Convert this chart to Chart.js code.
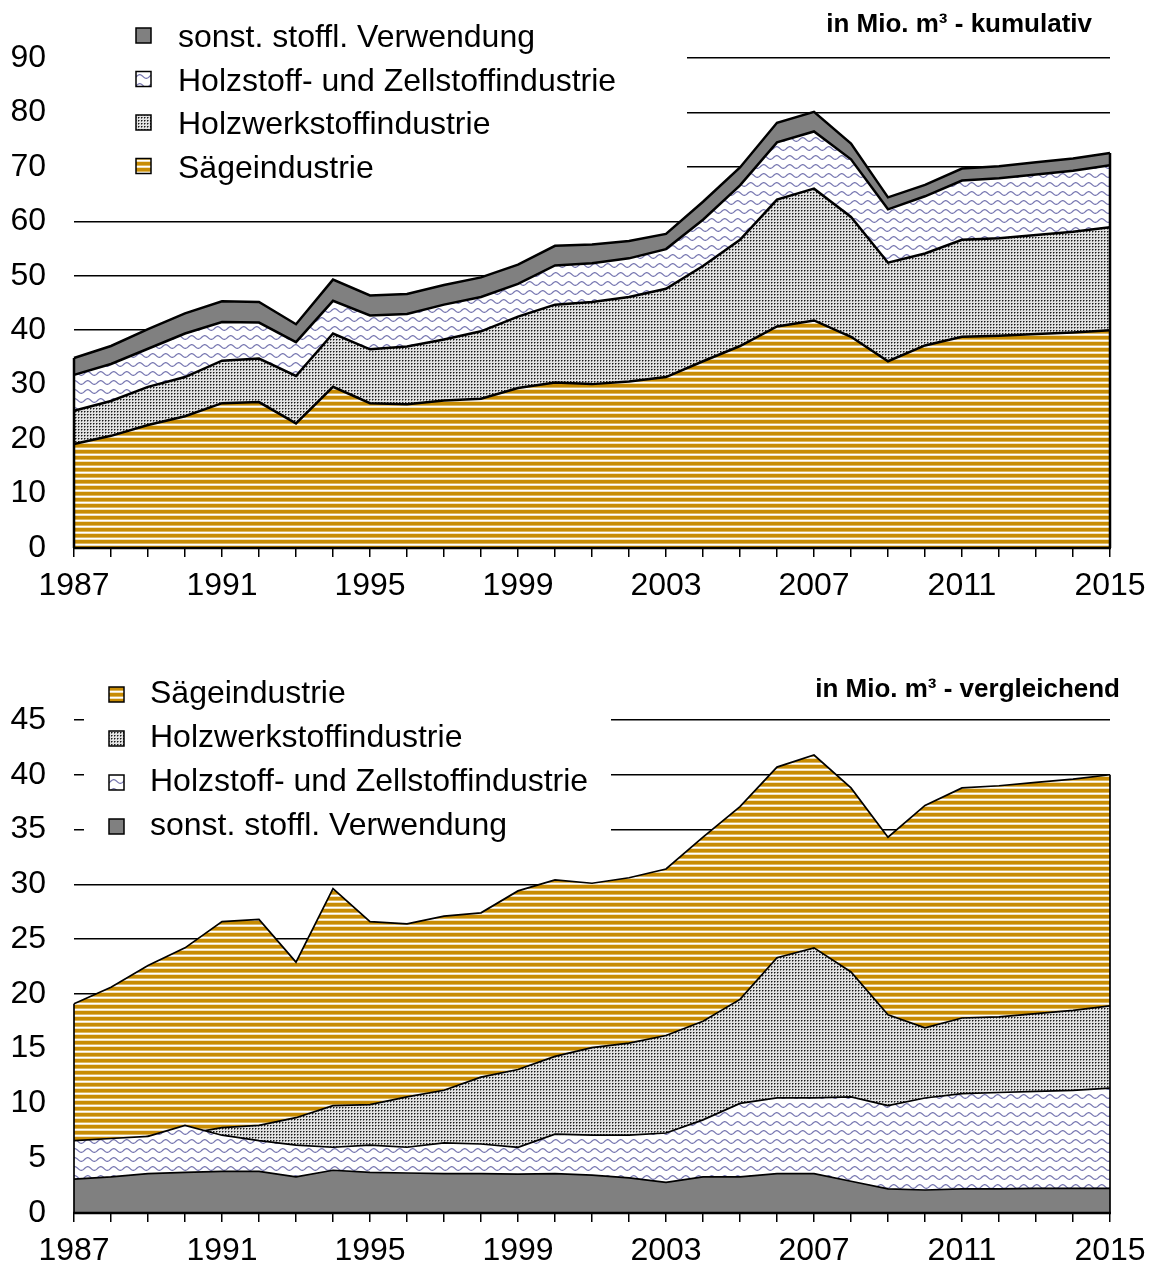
<!DOCTYPE html>
<html><head><meta charset="utf-8">
<script src="https://cdn.jsdelivr.net/npm/chart.js@4"></script>
<style>
html,body{margin:0;padding:0;background:#fff;}
.wrap{position:relative;width:1158px;}
canvas{display:block;}
</style>
</head><body>
<div class="wrap" style="height:615px"><canvas id="c1"></canvas></div>
<div class="wrap" style="height:651px"><canvas id="c2"></canvas></div>
<script>
// ---- data ----
const years = ['1987','1988','1989','1990','1991','1992','1993','1994','1995','1996','1997','1998','1999','2000','2001','2002','2003','2004','2005','2006','2007','2008','2009','2010','2011','2012','2013','2014','2015'];
const saege     = [19.1,20.6,22.6,24.2,26.6,26.8,22.9,29.6,26.6,26.4,27.1,27.4,29.4,30.4,30.1,30.6,31.4,34.3,37.1,40.7,41.8,38.8,34.3,37.2,38.8,39.0,39.3,39.6,40.0];
const holzwerk  = [6.1,6.4,7.0,7.2,7.8,8.0,8.7,9.8,9.9,10.6,11.2,12.4,13.1,14.3,15.1,15.5,16.2,17.5,19.5,23.3,24.2,22.0,18.1,16.9,17.8,17.9,18.2,18.5,18.9];
const holzstoff = [6.6,6.8,7.0,8.0,7.1,6.6,6.2,6.0,6.2,6.0,6.4,6.3,6.0,7.2,7.1,7.1,7.3,8.5,10.0,10.5,10.5,10.6,9.8,10.5,10.9,11.0,11.1,11.2,11.4];
const sonst     = [3.1,3.3,3.6,3.7,3.8,3.8,3.3,3.9,3.7,3.65,3.6,3.6,3.55,3.6,3.45,3.2,2.8,3.3,3.3,3.6,3.6,2.9,2.2,2.1,2.2,2.2,2.25,2.25,2.25];
const seriesNames = ['Sägeindustrie','Holzwerkstoffindustrie','Holzstoff- und Zellstoffindustrie','sonst. stoffl. Verwendung'];
const titleTop = 'in Mio. m³ - kumulativ';
const titleBottom = 'in Mio. m³ - vergleichend';
const yTicksTop = [0,10,20,30,40,50,60,70,80,90];
const yTicksBottom = [0,5,10,15,20,25,30,35,40,45];

// ---- patterns ----
function makePattern(w,h,draw){
  const c=document.createElement('canvas'); c.width=w; c.height=h;
  const g=c.getContext('2d'); draw(g,w,h);
  return g.createPattern(c,'repeat');
}
const patSaege = makePattern(4,6,(g,w,h)=>{
  g.fillStyle='#ffffff'; g.fillRect(0,0,w,h);
  g.fillStyle='rgb(200,140,4)'; g.fillRect(0,0,w,3);
  g.fillStyle='rgb(222,184,96)'; g.fillRect(0,3,w,1);
  g.fillStyle='rgb(240,224,186)'; g.fillRect(0,5,w,1);
});
const patWerk = makePattern(3,3,(g,w,h)=>{
  g.fillStyle='rgb(226,226,226)'; g.fillRect(0,0,w,h);
  g.fillStyle='rgb(25,25,25)'; g.fillRect(0,0,1,1);
  g.fillStyle='rgb(125,125,125)'; g.fillRect(1,0,1,1); g.fillRect(0,1,1,1);
});
const patStoff = makePattern(13,9,(g,w,h)=>{
  g.fillStyle='#ffffff'; g.fillRect(0,0,w,h);
  g.strokeStyle='rgb(118,118,176)'; g.lineWidth=1.2;
  g.beginPath();
  for(let x=-2;x<=w+2;x+=0.5){
    const y=4.5+1.8*Math.sin(2*Math.PI*x/w);
    if(x===-2) g.moveTo(x,y); else g.lineTo(x,y);
  }
  g.stroke();
});
const colSonst = 'rgb(128,128,128)';
const fills = [patSaege, patWerk, patStoff, colSonst];

const FONT = '"Liberation Sans", Arial, sans-serif';

function overlayPlugin(cfg){
  return {
    id:'overlay_'+cfg.id,
    beforeDatasetsDraw(chart){
      const ctx=chart.ctx; ctx.save();
      ctx.fillStyle='#fff';
      ctx.fillRect(cfg.box[0],cfg.box[1],cfg.box[2]-cfg.box[0],cfg.box[3]-cfg.box[1]);
      ctx.restore();
    },
    afterDatasetsDraw(chart){
      const ctx=chart.ctx, xs=chart.scales.x, ys=chart.scales.y;
      ctx.save();
      ctx.strokeStyle='#000'; ctx.lineWidth=cfg.edgeW;
      const n=years.length;
      const tops=cfg.edgeTops;
      const y0=ys.getPixelForValue(0);
      [[0,tops[0]],[n-1,tops[1]]].forEach(([i,v])=>{
        const x=xs.getPixelForValue(i);
        ctx.beginPath(); ctx.moveTo(x,y0); ctx.lineTo(x,ys.getPixelForValue(v)); ctx.stroke();
      });
      ctx.lineWidth=2.5;
      ctx.beginPath(); ctx.moveTo(chart.chartArea.left-1,y0); ctx.lineTo(chart.chartArea.right+1,y0); ctx.stroke();
      ctx.restore();
    },
    afterDraw(chart){
      const ctx=chart.ctx; ctx.save();
      ctx.fillStyle='#000';
      ctx.font='bold 26px '+FONT;
      ctx.textAlign='right'; ctx.textBaseline='alphabetic';
      ctx.fillText(cfg.title,cfg.titlePos[0],cfg.titlePos[1]);
      ctx.font='32px '+FONT;
      ctx.textAlign='left';
      cfg.legend.forEach((idx,k)=>{
        const base=cfg.legBase+k*cfg.legStep;
        const sx=cfg.swX, sy=base-cfg.swOff-cfg.swS;
        ctx.fillStyle=fills[idx];
        ctx.fillRect(sx,sy,cfg.swS,cfg.swS);
        ctx.strokeStyle='#000'; ctx.lineWidth=1.5;
        ctx.strokeRect(sx,sy,cfg.swS,cfg.swS);
        ctx.fillStyle='#000';
        ctx.fillText(seriesNames[idx],cfg.txX,base);
      });
      ctx.restore();
    }
  };
}

function scalesCfg(maxV,step,ticksArr,xHeight){
  return {
    x:{
      type:'category',
      grid:{display:true,drawOnChartArea:false,drawTicks:true,tickLength:9,color:'#000',lineWidth:1.5,tickColor:'#000',tickWidth:1.5},
      border:{display:true,color:'#000',width:2},
      ticks:{autoSkip:false,maxRotation:0,minRotation:0,padding:10,color:'#000',font:{family:FONT,size:32},
        callback:function(v,i){ return (i%4===0)? years[i] : ''; }},
      afterFit(s){ s.height=xHeight; }
    },
    y:{
      min:0,max:maxV,
      afterBuildTicks(s){ s.ticks=ticksArr.map(v=>({value:v})); },
      grid:{display:true,drawTicks:false,color:(c)=> c.tick.value===0?'rgba(0,0,0,0)':'#000',lineWidth:1.5},
      border:{display:false},
      ticks:{padding:28,color:'#000',font:{family:FONT,size:32},stepSize:step},
      afterFit(s){ s.width=74; }
    }
  };
}

// ---- top chart (stacked / cumulative) ----
const totals = years.map((_,i)=>saege[i]+holzwerk[i]+holzstoff[i]+sonst[i]);
const topData = [saege,holzwerk,holzstoff,sonst];
const sTop = scalesCfg(90,10,yTicksTop,67);
sTop.y.stacked=true;
new Chart(document.getElementById('c1'),{
  type:'line',
  data:{labels:years,datasets:topData.map((d,i)=>({
    label:seriesNames[i],data:d,fill:i===0?'origin':'-1',
    backgroundColor:fills[i],borderColor:'#000',borderWidth:2.5,pointRadius:0,tension:0,borderJoinStyle:'miter'
  }))},
  options:{
    responsive:true,maintainAspectRatio:false,animation:false,events:[],
    layout:{padding:{top:58,right:48,bottom:0,left:0}},
    plugins:{legend:{display:false},tooltip:{enabled:false},filler:{propagate:false}},
    scales:sTop
  },
  plugins:[overlayPlugin({id:'top',box:[50,0,687,196],edgeW:2.5,edgeTops:[totals[0],totals[totals.length-1]],
    title:titleTop,titlePos:[1092,32],legend:[3,2,1,0],legBase:47,legStep:43.5,swX:136,swS:15,swOff:4,txX:178})]
});

// ---- bottom chart (overlapping / comparative) ----
const maxes = years.map((_,i)=>Math.max(saege[i],holzwerk[i],holzstoff[i],sonst[i]));
const sBot = scalesCfg(45,5,yTicksBottom,53);
new Chart(document.getElementById('c2'),{
  type:'line',
  data:{labels:years,datasets:topData.map((d,i)=>({
    label:seriesNames[i],data:d,fill:'origin',order:4-i,
    backgroundColor:fills[i],borderColor:'#000',borderWidth:1.7,pointRadius:0,tension:0
  }))},
  options:{
    responsive:true,maintainAspectRatio:false,animation:false,events:[],
    layout:{padding:{top:105,right:48,bottom:0,left:0}},
    plugins:{legend:{display:false},tooltip:{enabled:false}},
    scales:sBot
  },
  plugins:[overlayPlugin({id:'bot',box:[84,40,611,240],edgeW:1.7,edgeTops:[maxes[0],maxes[maxes.length-1]],
    title:titleBottom,titlePos:[1120,82],legend:[0,1,2,3],legBase:88,legStep:44,swX:109,swS:15,swOff:1,txX:150})]
});
</script>
</body></html>
